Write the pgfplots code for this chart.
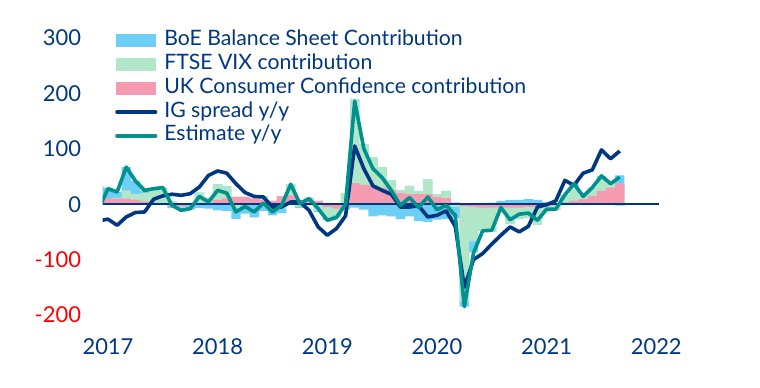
\documentclass[border=0pt]{standalone}
\usepackage{pgfplots}
\usepackage{pgfplotstable}
\pgfplotsset{compat=1.18}
\usepackage{fontspec}
\setmainfont{Lato}
\definecolor{boeblue}{HTML}{6DCFF6}
\definecolor{vixgreen}{HTML}{B1E6C8}
\definecolor{ukpink}{HTML}{F79BB3}
\definecolor{navycol}{HTML}{003781}
\definecolor{tealcol}{HTML}{00908D}
\definecolor{labred}{HTML}{FF0000}
\pgfplotsset{
  barlegend/.style={legend image code/.code={\fill[##1, draw=none] (0bp,-6.5bp) rectangle (40bp,6.5bp); \path (47bp,0bp);}},
  linelegend/.style={legend image code/.code={\draw[##1, line cap=round] (1.5bp,0bp) -- (40bp,0bp); \path (47bp,0bp);}},
}
\pgfplotstableread{
m boe vix ukcc ig est
-1 22 0 10 -30 -8
0 20 0 10 -27 28
1 10 2 10 -38 22
2 42 15 10 -23 67
3 24 10 8 -15 42
4 5 15 5 -14 25
5 3 22 3 9 28
6 2 26 2 15 30
7 -3 5 -4 18 -2
8 -5 -2 -4 16 -11
9 -8 2 -2 19 -8
10 -7 20 1 31 14
11 -8 10 2 52 4
12 -11 28 8 60 25
13 -12 22 10 56 20
14 -20 -7 13 37 -14
15 -15 -2 13 21 -4
16 -24 0 10 14 -14
17 -12 6 8 13 2
18 -10 -10 6 -5 -14
19 -8 -8 14 -5 -2
20 0 20 16 4 36
21 -2 -5 8 4 1
22 -2 4 8 -11 10
23 -2 -12 6 -41 -8
24 -4 -20 -5 -56 -29
25 -4 -12 -8 -44 -24
26 -5 20 -5 -21 0
27 -6 152 38 105 186
28 -10 73 35 64 100
29 -22 51 34 33 64
30 -20 37 30 25 48
31 -22 18 25 18 25
32 -27 5 20 -5 -2
33 -22 15 18 -5 12
34 -30 5 18 -3 -6
35 -32 27 18 -23 13
36 -28 5 13 -20 -10
37 -27 13 11 -12 -2
38 -20 -5 3 -40 -20
39 -9 -172 -4 -150 -185
40 -20 -62 -5 -100 -88
41 0 -42 -6 -89 -48
42 3 -44 -6 -72 -47
43 6 -6 -6 -56 -6
44 8 -30 -6 -41 -28
45 8 -20 -6 -50 -18
46 9 -20 -5 -40 -16
47 8 -32 -5 -5 -29
48 4 -10 -3 -1 -9
49 1 -8 -2 6 -9
50 1 13 3 43 17
51 3 28 6 34 37
52 -1 6 9 56 14
53 0 15 15 62 30
54 1 26 24 98 51
55 0 7 30 82 37
56 15 -3 37 96 49
}\datatable
\begin{document}
\begin{tikzpicture}[x=1bp,y=1bp]
\useasboundingbox (0,0) rectangle (760,387);
\begin{axis}[
  at={(102.5bp,72bp)}, anchor=south west,
  width=556.5bp, height=277bp, scale only axis,
  xmin=-0.6, xmax=60.3, ymin=-200, ymax=300,
  axis line style={draw=none}, tick style={draw=none},
  xtick={0,12,24,36,48,60},
  xticklabels={2017,2018,2019,2020,2021,2022},
  ytick={-200,-100,0,100,200,300},
  yticklabels={{\color{labred}-200},{\color{labred}-100},0,100,200,300},
  xticklabel style={text=navycol, font=\fontsize{22}{26}\selectfont, yshift=-20bp},
  yticklabel style={text=navycol, font=\fontsize{22}{26}\selectfont, xshift=-18bp},
  legend style={at={(axis description cs:0.0225,1.027)}, anchor=north west,
    draw=none, fill=none, font=\fontsize{21.3}{25}\selectfont, text=navycol,
    inner sep=0pt, row sep=3.8bp, nodes={inner sep=0pt, text height=15bp, text depth=5bp}},
  legend cell align=left,
]
\addlegendimage{barlegend, fill=boeblue}
\addlegendentry{BoE Balance Sheet Contribution}
\addlegendimage{barlegend, fill=vixgreen}
\addlegendentry{FTSE VIX contribution}
\addlegendimage{barlegend, fill=ukpink}
\addlegendentry{UK Consumer Confidence contribution}
\addlegendimage{linelegend, navycol, line width=3.6bp}
\addlegendentry{IG spread y/y}
\addlegendimage{linelegend, tealcol, line width=3.6bp}
\addlegendentry{Estimate y/y}
% positive stacks (pink bottom, green, blue top)
\addplot[ybar, bar width=1.02, bar shift=0pt, fill=boeblue, draw=none, forget plot]
  table[x=m, y expr={max(\thisrow{ukcc},0)+max(\thisrow{vix},0)+max(\thisrow{boe},0)}] {\datatable};
\addplot[ybar, bar width=1.02, bar shift=0pt, fill=vixgreen, draw=none, forget plot]
  table[x=m, y expr={max(\thisrow{ukcc},0)+max(\thisrow{vix},0)}] {\datatable};
\addplot[ybar, bar width=1.02, bar shift=0pt, fill=ukpink, draw=none, forget plot]
  table[x=m, y expr={max(\thisrow{ukcc},0)}] {\datatable};
% negative stacks
\addplot[ybar, bar width=1.02, bar shift=0pt, fill=boeblue, draw=none, forget plot]
  table[x=m, y expr={min(\thisrow{ukcc},0)+min(\thisrow{vix},0)+min(\thisrow{boe},0)}] {\datatable};
\addplot[ybar, bar width=1.02, bar shift=0pt, fill=vixgreen, draw=none, forget plot]
  table[x=m, y expr={min(\thisrow{ukcc},0)+min(\thisrow{vix},0)}] {\datatable};
\addplot[ybar, bar width=1.02, bar shift=0pt, fill=ukpink, draw=none, forget plot]
  table[x=m, y expr={min(\thisrow{ukcc},0)}] {\datatable};
% zero line
\addplot[navycol, line width=2bp, forget plot] coordinates {(-0.6,0) (60.3,0)};
% lines
\addplot[navycol, line width=3.6bp, line join=round, forget plot] table[x=m, y=ig] {\datatable};
\addplot[tealcol, line width=3.6bp, line join=round, forget plot] table[x=m, y=est] {\datatable};
\end{axis}
\end{tikzpicture}
\end{document}
